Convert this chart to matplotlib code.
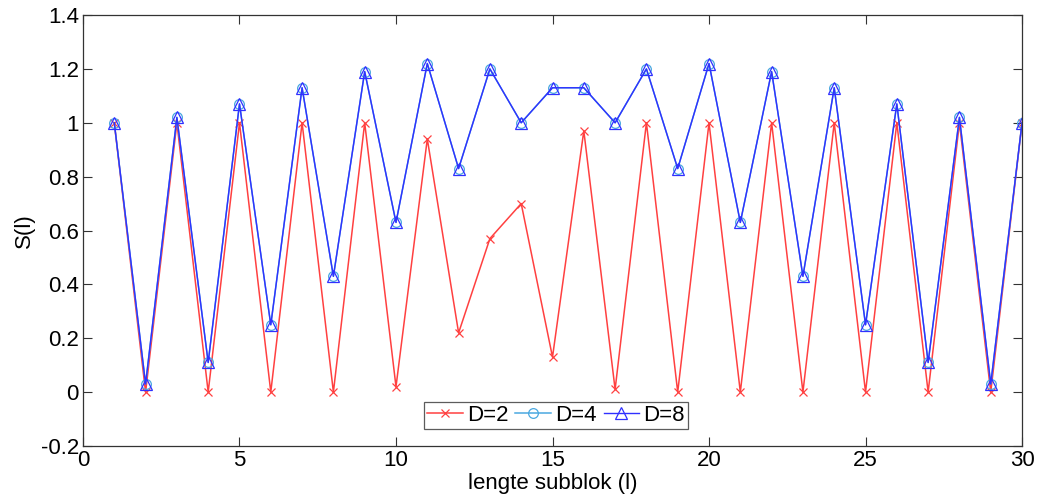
import matplotlib
matplotlib.use("Agg")
import matplotlib.pyplot as plt
import numpy as np

plt.rcParams['font.family'] = ['Liberation Sans', 'DejaVu Sans']

l = np.arange(1, 31)
s_d2 = [1.0, 0.0, 1.0, 0.0, 1.0, 0.0, 1.0, 0.0, 1.0, 0.02,
        0.94, 0.22, 0.57, 0.70, 0.13, 0.97, 0.01, 1.0, 0.0, 1.0,
        0.0, 1.0, 0.0, 1.0, 0.0, 1.0, 0.0, 1.0, 0.0, 1.0]
s_d4 = [1.0, 0.03, 1.02, 0.11, 1.07, 0.25, 1.13, 0.43, 1.19, 0.63,
        1.22, 0.83, 1.20, 1.00, 1.13, 1.13, 1.00, 1.20, 0.83, 1.22,
        0.63, 1.19, 0.43, 1.13, 0.25, 1.07, 0.11, 1.02, 0.03, 1.0]
s_d8 = list(s_d4)

fig = plt.figure(figsize=(10.49, 5.01), dpi=100)
ax = fig.add_axes([0.0791, 0.1098, 0.8952, 0.8602])

ax.plot(l, s_d2, color='#ff4040', lw=1.1, marker='x', ms=6, mew=0.9, label='D=2')
ax.plot(l, s_d4, color='#4aa8e0', lw=1.1, marker='o', ms=7, mfc='none', mew=0.9, label='D=4')
ax.plot(l, s_d8, color='#3030ff', lw=1.0, marker='^', ms=8, mfc='none', mew=0.9, label='D=8')

ax.set_xlim(0, 30)
ax.set_ylim(-0.2, 1.4)
ax.set_xticks([0, 5, 10, 15, 20, 25, 30])
ax.set_yticks([-0.2, 0, 0.2, 0.4, 0.6, 0.8, 1.0, 1.2, 1.4])
ax.set_yticklabels(['-0.2', '0', '0.2', '0.4', '0.6', '0.8', '1', '1.2', '1.4'])
ax.tick_params(direction='in', length=6.5, width=0.8, top=True, right=True,
               labelsize=16, colors='#333333', labelcolor='black', pad=3)
for sp in ax.spines.values():
    sp.set_color('#333333')
    sp.set_linewidth(0.9)

ax.set_xlabel('lengte subblok (l)', fontsize=16, labelpad=1)
ax.set_ylabel('S(l)', fontsize=16, labelpad=4)

leg = ax.legend(loc='lower left', bbox_to_anchor=(0.363, 0.039), ncol=3,
                fontsize=16, frameon=True, fancybox=False, edgecolor='#333333',
                handlelength=1.6, handletextpad=0.2, columnspacing=0.3,
                borderpad=0.15, borderaxespad=0)
leg.get_frame().set_linewidth(0.9)

fig.savefig('out.png', dpi=100)
